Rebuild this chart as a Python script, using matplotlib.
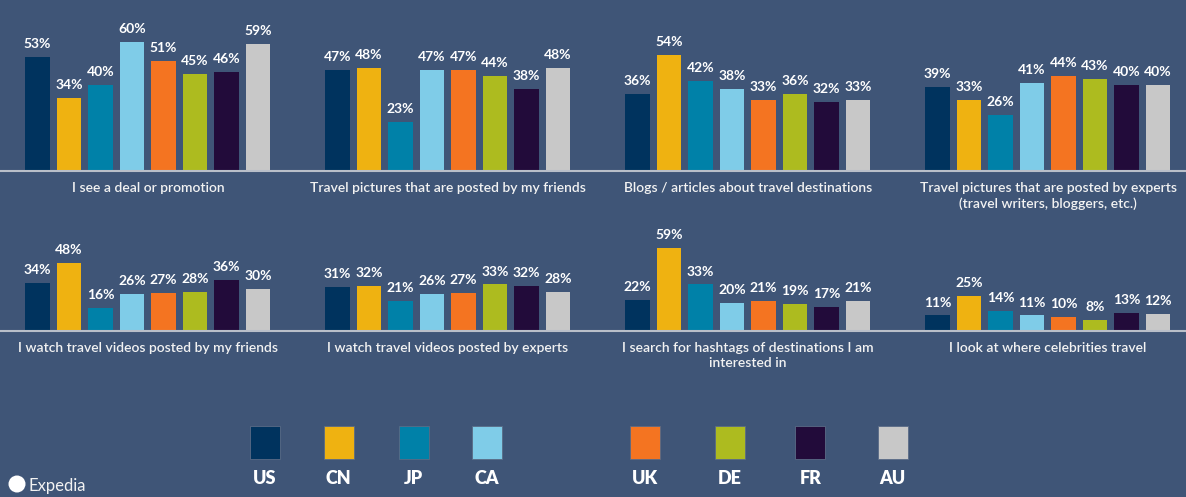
import matplotlib.pyplot as plt
from matplotlib.patches import Rectangle, Ellipse
from matplotlib.lines import Line2D

plt.rcParams['font.family'] = ['Lato', 'DejaVu Sans']

# данные
countries = ['US', 'CN', 'JP', 'CA', 'UK', 'DE', 'FR', 'AU']
colors = ['#00335e', '#efb211', '#0081a8', '#7fcce8', '#f47421', '#adbb1f', '#220b3a', '#c8c8c8']
categories = [
    'I see a deal or promotion',
    'Travel pictures that are posted by my friends',
    'Blogs / articles about travel destinations',
    'Travel pictures that are posted by experts\n(travel writers, bloggers, etc.)',
    'I watch travel videos posted by my friends',
    'I watch travel videos posted by experts',
    'I search for hashtags of destinations I am\ninterested in',
    'I look at where celebrities travel',
]
deal = [53, 34, 40, 60, 51, 45, 46, 59]
pics_friends = [47, 48, 23, 47, 47, 44, 38, 48]
blogs = [36, 54, 42, 38, 33, 36, 32, 33]
pics_experts = [39, 33, 26, 41, 44, 43, 40, 40]
videos_friends = [34, 48, 16, 26, 27, 28, 36, 30]
videos_experts = [31, 32, 21, 26, 27, 33, 32, 28]
hashtags = [22, 59, 33, 20, 21, 19, 17, 21]
celebrities = [11, 25, 14, 11, 10, 8, 13, 12]
values = [deal, pics_friends, blogs, pics_experts,
          videos_friends, videos_experts, hashtags, celebrities]

bg = '#3f5577'
W, H = 1186, 497
fig = plt.figure(figsize=(W / 100, H / 100), dpi=100)
fig.patch.set_facecolor(bg)


def fx(px):
    return px / W


def fy(py):
    return 1 - py / H


baselines = [171, 331]   # базовые линии рядов (пиксели сверху)
tops = [20, 215]
scales = [2.15, 1.41]    # пикселей на процент

for i, (cat, vals) in enumerate(zip(categories, values)):
    row, col = divmod(i, 4)
    base, top = baselines[row], tops[row]
    ax = fig.add_axes([fx(300 * col), fy(base), fx(300), (base - top) / H])
    ax.set_facecolor('none')
    ax.axis('off')
    bars = ax.bar(range(len(vals)), vals, width=0.79, color=colors)
    ax.set_xlim(-37.5 / 31.5, (300 - 37.5) / 31.5)
    ax.set_ylim(0, (base - top) / scales[row])
    ax.bar_label(bars, labels=[f'{v}%' for v in vals], padding=5,
                 color='white', fontsize=10, fontweight='bold')
    fig.text(fx(300 * col + 148), fy(base + 11), cat, ha='center', va='top',
             color='#f2f2f2', fontsize=10, fontweight='semibold', linespacing=1.3)

for base in baselines:
    fig.add_artist(Line2D([0, 1], [fy(base), fy(base)], transform=fig.transFigure,
                          color='#b9bfc9', lw=1.5))

# легенда
legend_x = [264.5, 338.5, 413.5, 486.5, 644.5, 729.5, 810.5, 892.5]
for cx, c, name in zip(legend_x, colors, countries):
    fig.add_artist(Rectangle((fx(cx - 15), fy(459)), fx(30), 33 / H,
                             transform=fig.transFigure, facecolor=c,
                             edgecolor='#5a6b86', lw=0.6))
    fig.text(fx(cx), fy(478), name, ha='center', va='center', color='white',
             fontsize=13, fontweight='heavy')

# логотип
fig.add_artist(Ellipse((fx(17), fy(484)), fx(17), 17 / H, transform=fig.transFigure,
                       facecolor='white', edgecolor='none'))
fig.text(fx(28), fy(486), 'Expedia', ha='left', va='center', color='#f2f2f2', fontsize=12)

fig.savefig('out.png', dpi=100, facecolor=bg)
